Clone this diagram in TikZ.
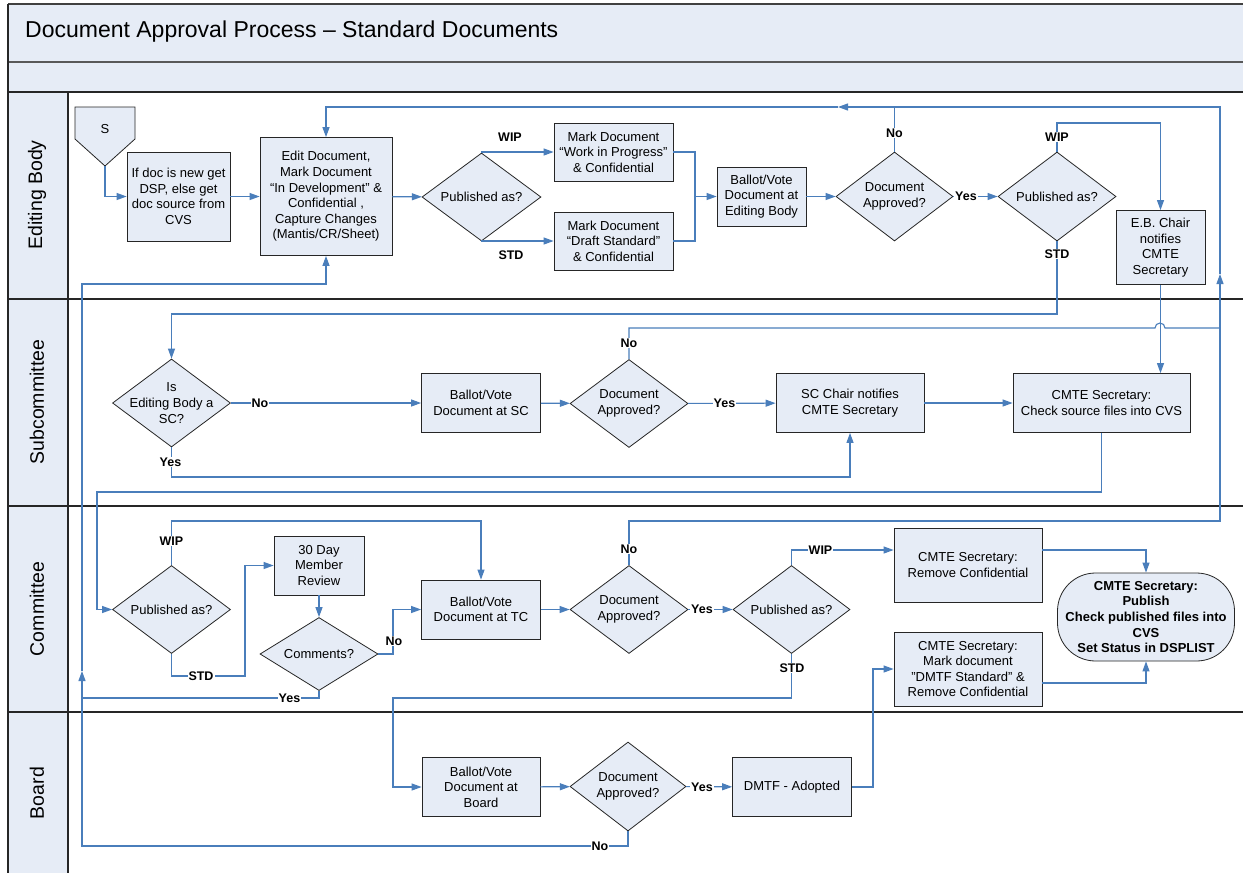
\documentclass[tikz,border=0pt]{standalone}
\usepackage{fontspec}
\setmainfont{Liberation Sans}
\usetikzlibrary{arrows.meta,shapes.geometric}
\definecolor{paleblue}{RGB}{230,236,246}
\definecolor{linkblue}{RGB}{74,126,187}
\newcommand\txt{\fontsize{13}{15.6}\selectfont}
\newcommand\tagtxt{\fontsize{12.5}{15}\selectfont\bfseries}
\newcommand\lanetxt{\fontsize{19.5}{21}\selectfont}
\begin{document}
\begin{tikzpicture}[x=1pt,y=-1pt,
  box/.style={draw=black!85, fill=paleblue, line width=0.8pt, inner sep=0pt, align=center, font=\txt},
  dia/.style={diamond, draw=black!85, fill=paleblue, line width=0.8pt, inner sep=0pt},
  dtext/.style={font=\txt, align=center, inner sep=0pt},
  flow/.style={draw=linkblue, line width=1.1pt, -{Triangle[length=10pt,width=7pt]}},
  link/.style={draw=linkblue, line width=1.1pt},
  tag/.style={font=\tagtxt, fill=white, inner sep=1pt},
  laneline/.style={draw=black!85, line width=1.3pt},
  lanename/.style={rotate=90, font=\lanetxt}]

\useasboundingbox (0,0) rectangle (1243,873);
\clip (0,0) rectangle (1243,873);

% ---------- frame, title bars and lane headers ----------
\fill[white] (0,0) rectangle (1243,873);
\fill[paleblue] (8,4) rectangle (1260,92);
\fill[paleblue] (8,92) rectangle (68,890);
\draw[draw=black!75, line width=1.3pt] (8,4) -- (1260,4);
\draw[draw=black!65, line width=1.3pt] (8,62) -- (1260,62);
\draw[laneline] (8,92) -- (1260,92);
\draw[laneline] (8,299) -- (1260,299);
\draw[laneline] (8,506) -- (1260,506);
\draw[laneline] (8,712) -- (1260,712);
\draw[laneline] (8,4) -- (8,890);
\draw[laneline] (68,92) -- (68,890);

\node[anchor=west, font=\fontsize{23}{26}\selectfont, inner sep=0pt] (title) at (25,32)
  {Document Approval Process – Standard Documents};

\node[lanename] (lnEB) at (37,195) {Editing Body};
\node[lanename] (lnSC) at (37,402) {Subcommittee};
\node[lanename] (lnCT) at (37,609) {Committee};
\node[lanename] (lnBD) at (37,793) {Board};

% ---------- Editing Body ----------
\draw[draw=black!85, fill=paleblue, line width=0.8pt]
  (75,107) -- (135,107) -- (135,139) -- (105,166) -- (75,139) -- cycle;
\node[font=\txt] (S) at (105,129) {S};
\coordinate (sTip) at (105,166);

\node[box, minimum width=103pt, minimum height=89pt] (b1) at (178.5,196.5)
  {If doc is new get\\DSP, else get\\doc source from\\CVS};
\node[box, minimum width=132pt, minimum height=118pt] (b2) at (326,196.5)
  {Edit Document,\\Mark Document\\“In Development” \&\\Confidential ,\\Capture Changes\\(Mantis/CR/Sheet)};
\node[dia, minimum width=119pt, minimum height=88pt] (d1) at (481.5,197) {};
\node[dtext] (d1t) at (d1) {Published as?};
\node[box, minimum width=119pt, minimum height=58pt] (b3) at (613.5,152)
  {Mark Document\\“Work in Progress”\\\& Confidential};
\node[box, minimum width=119pt, minimum height=58pt] (b4) at (613.5,241)
  {Mark Document\\“Draft Standard”\\\& Confidential};
\node[box, minimum width=89pt, minimum height=59pt] (b5) at (761.5,196.5)
  {Ballot/Vote\\Document at\\Editing Body};
\node[dia, minimum width=117pt, minimum height=89pt] (d2) at (894.5,196.5) {};
\node[dtext] (d2t) at (d2) {Document\\Approved?};
\node[dia, minimum width=118pt, minimum height=89pt] (d3) at (1057,196.5) {};
\node[dtext] (d3t) at (d3) {Published as?};
\node[box, minimum width=89pt, minimum height=74pt] (b6) at (1160.5,247.5)
  {E.B. Chair\\notifies\\CMTE\\Secretary};

% ---------- Subcommittee ----------
\node[dia, minimum width=118pt, minimum height=88pt] (d4) at (171.5,403) {};
\node[dtext] (d4t) at (d4) {Is\\Editing Body a\\SC?};
\node[box, minimum width=119pt, minimum height=59pt] (b7) at (481,403)
  {Ballot/Vote\\Document at SC};
\node[dia, minimum width=118pt, minimum height=88pt] (d5) at (629,403.5) {};
\node[dtext] (d5t) at (d5) {Document\\Approved?};
\node[box, minimum width=148pt, minimum height=59pt] (b8) at (850,403)
  {SC Chair notifies\\CMTE Secretary};
\node[box, minimum width=177pt, minimum height=59pt] (b9) at (1101.5,403)
  {CMTE Secretary:\\Check source files into CVS};

% ---------- Committee ----------
\node[dia, minimum width=118pt, minimum height=88pt] (d6) at (171.5,609.5) {};
\node[dtext] (d6t) at (d6) {Published as?};
\node[box, minimum width=90pt, minimum height=59pt] (b11) at (319,565.5)
  {30 Day\\Member\\Review};
\node[dia, minimum width=118pt, minimum height=73pt] (d7) at (319,654) {};
\node[dtext] (d7t) at (d7) {Comments?};
\node[box, minimum width=119pt, minimum height=59pt] (b10) at (481,609.5)
  {Ballot/Vote\\Document at TC};
\node[dia, minimum width=118pt, minimum height=88pt] (d8) at (629,609.5) {};
\node[dtext] (d8t) at (d8) {Document\\Approved?};
\node[dia, minimum width=117pt, minimum height=88pt] (d9) at (791.5,609.5) {};
\node[dtext] (d9t) at (d9) {Published as?};
\node[box, minimum width=148pt, minimum height=74pt] (b12) at (968,565)
  {CMTE Secretary:\\Remove Confidential};
\node[box, minimum width=148pt, minimum height=74pt] (b14) at (968,669)
  {CMTE Secretary:\\Mark document\\"DMTF Standard" \&\\Remove Confidential};
\node[box, rounded corners=38pt, minimum width=177pt, minimum height=88pt, font=\txt\bfseries] (term) at (1146,617)
  {CMTE Secretary:\\Publish\\Check published files into\\CVS\\Set Status in DSPLIST};

% ---------- Board ----------
\node[box, minimum width=118pt, minimum height=59pt] (b13) at (481,787)
  {Ballot/Vote\\Document at\\Board};
\node[dia, minimum width=116pt, minimum height=89pt] (d10) at (628,786.5) {};
\node[dtext] (d10t) at (d10) {Document\\Approved?};
\node[box, minimum width=119pt, minimum height=59pt] (b15) at (792,787)
  {DMTF - Adopted};

% ---------- bend points ----------
\coordinate (mrg)   at (695,196.5);
\coordinate (topMid) at (838,107);
\coordinate (topR)  at (1220,107);
\coordinate (rLow)  at (1220,521);
\coordinate (rUp)   at (1220,274);
\coordinate (rJoin) at (1220,328);
\coordinate (hopL)  at (1155,328);
\coordinate (cwip3) at (1160.5,123);
\coordinate (cstd3) at (171.5,314);
\coordinate (cyes4) at (850,477);
\coordinate (cL1)   at (97,492);
\coordinate (cwip6) at (481,521);
\coordinate (cstd6) at (245,676);
\coordinate (cno7)  at (393,609.5);
\coordinate (cYesL) at (82,698);
\coordinate (lUp)   at (82,671);
\coordinate (lTop)  at (82,284);
\coordinate (cw9)   at (791.5,550);
\coordinate (cstd9) at (393,698);
\coordinate (cb14)  at (1100,683);
\coordinate (cb15)  at (873,669);
\coordinate (cNoB)  at (82,846);

% ---------- connectors ----------
\draw[flow] (sTip) |- (b1.west);
\draw[flow] (b1) -- (b2);
\draw[flow] (b2) -- (d1);
\draw[flow] (d1.north) |- (b3.west);
\draw[flow] (d1.south) |- (b4.west);
\draw[link] (b3.east) -| (mrg);
\draw[link] (b4.east) -| (mrg);
\draw[flow] (mrg) -- (b5.west);
\draw[flow] (b5) -- (d2);
\draw[flow] (d2.north) |- (topMid);
\draw[flow] (topMid) -| (b2.north);
\draw[link] (rUp) -- (topR) -- (d2.north |- topR);
\draw[flow] (d2) -- (d3);
\draw[flow] (d3.north) |- (cwip3) -- (b6.north);
\draw[flow] (d3.south) |- (cstd3) -- (d4.north);
\draw[flow] (b6.south) -- (b6.south |- b9.north);

\draw[flow] (d4) -- (b7);
\draw[flow] (b7) -- (d5);
\draw[flow] (d5) -- (b8);
\draw[flow] (b8) -- (b9);
\draw[link] (d5.north) |- (hopL) arc[start angle=180, end angle=0, radius=5pt] -- (rJoin);
\draw[flow] (d4.south) |- (cyes4) -- (b8.south);
\draw[flow] (b9.south) |- (cL1) |- (d6.west);

\draw[flow] (d6.north) |- (cwip6) -- (b10.north);
\draw[flow] (d6.south) |- (cstd6) |- (b11.west);
\draw[flow] (b11.south) -- (d7.north);
\draw[flow] (d7.east) -| (cno7) -- (b10.west);
\draw[flow] (d7.south) |- (cYesL) -- (lUp);
\draw[flow] (lUp) -- (lTop) -| (b2.south);
\draw[flow] (b10) -- (d8);
\draw[flow] (d8.north) |- (rLow) -- (rUp);
\draw[flow] (d8) -- (d9);
\draw[flow] (d9.north) -- (cw9) -- (b12.west |- cw9);
\draw[flow] (b12.east |- cw9) -| (term.north);
\draw[flow] (d9.south) |- (cstd9) |- (b13.west);
\draw[flow] (b14.east |- cb14) -| (term.south);

\draw[flow] (b13) -- (d10);
\draw[flow] (d10) -- (b15);
\draw[flow] (b15.east) -| (cb15) -- (b14.west);
\draw[link] (d10.south) |- (cNoB) -- (cYesL);

% ---------- branch tags ----------
\node[tag] (t1) at (510,137) {WIP};
\node[tag] (t2) at (511,255) {STD};
\node[tag] (t3) at (894.5,133) {No};
\node[tag] (t4) at (966,196.5) {Yes};
\node[tag] (t5) at (1057,137) {WIP};
\node[tag] (t6) at (1057,254) {STD};
\node[tag] (t7) at (260,403) {No};
\node[tag] (t8) at (170.5,462) {Yes};
\node[tag] (t9) at (629,343) {No};
\node[tag] (t10) at (724.5,403) {Yes};
\node[tag] (t11) at (171.5,541) {WIP};
\node[tag] (t12) at (201,676) {STD};
\node[tag] (t13) at (394,641) {No};
\node[tag] (t14) at (289.5,698) {Yes};
\node[tag] (t15) at (629,549) {No};
\node[tag] (t16) at (702,609.5) {Yes};
\node[tag] (t17) at (820.5,550) {WIP};
\node[tag] (t18) at (792,668) {STD};
\node[tag] (t19) at (702,787) {Yes};
\node[tag] (t20) at (600,846) {No};
\end{tikzpicture}
\end{document}
